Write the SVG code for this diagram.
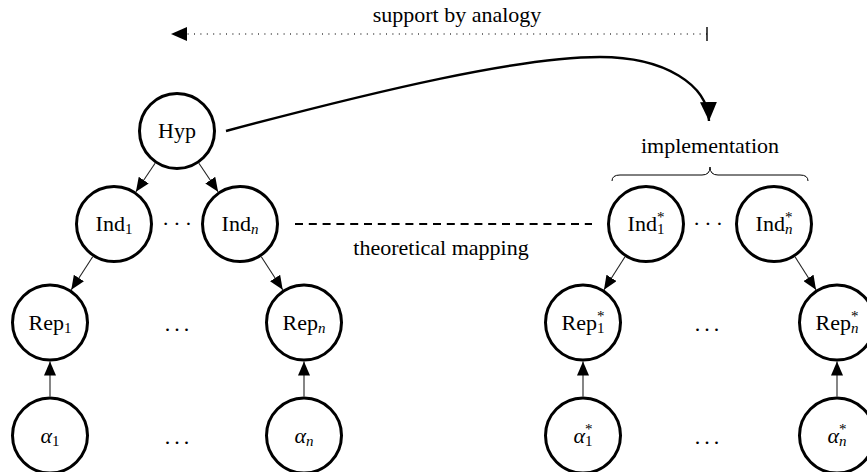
<svg xmlns="http://www.w3.org/2000/svg" width="867" height="472" viewBox="0 0 867 472">
  <style>
    text { font-family: "Liberation Serif", Tinos, "Noto Serif", "DejaVu Serif", serif; font-size: 22px; fill: #000; }
    .node circle { fill: #fff; stroke: #000; stroke-width: 3; }
    .node text { text-anchor: middle; }
    .sub { font-size: 15px; }
    .it { font-style: italic; }
    .edge { stroke: #222; stroke-width: 1.1; fill: none; marker-end: url(#tip); }
    .dots { text-anchor: middle; letter-spacing: 4px; }
    .label { text-anchor: middle; }
  </style>
  <defs>
    <marker id="tip" markerUnits="userSpaceOnUse" markerWidth="15" markerHeight="12" refX="14" refY="6" orient="auto">
      <path d="M0,0 L14,6 L0,12 z" fill="#000"/>
    </marker>
    <marker id="bigtip" markerUnits="userSpaceOnUse" markerWidth="20" markerHeight="17" refX="19" refY="8.5" orient="auto">
      <path d="M0,0 L19,8.5 L0,17 z" fill="#000"/>
    </marker>
    <marker id="leftTip" markerUnits="userSpaceOnUse" markerWidth="17" markerHeight="14" refX="16" refY="7" orient="auto">
      <path d="M0,0 L16,7 L0,14 z" fill="#000"/>
    </marker>
  </defs>

  <!-- connectors -->
  <g id="connectors">
    <!-- analogy arrow, dotted, with bar at its tail -->
    <line x1="707" y1="34" x2="171" y2="34" stroke="#444" stroke-width="1.3" stroke-dasharray="1 5.4" marker-end="url(#leftTip)"/>
    <line x1="707" y1="27" x2="707" y2="41" stroke="#000" stroke-width="1.4"/>
    <!-- implementation curve -->
    <path d="M226,131 C380,90 520,57 600,57 C665,57 708,85 709,121" fill="none" stroke="#000" stroke-width="2.4" marker-end="url(#bigtip)"/>
    <!-- theoretical mapping -->
    <line x1="295" y1="224" x2="592" y2="224" stroke="#000" stroke-width="2" stroke-dasharray="8 5.8"/>
    <!-- implementation brace -->
    <path d="M612,181 Q612,175 620,175 L702,175 Q710,175 710,167 Q710,175 718,175 L800,175 Q808,175 808,181" fill="none" stroke="#000" stroke-width="1"/>
    <!-- tree edges, left -->
    <line class="edge" x1="155.1" y1="163.3" x2="135.9" y2="191.7"/>
    <line class="edge" x1="198.9" y1="163.3" x2="218.1" y2="191.7"/>
    <line class="edge" x1="92.7" y1="256.7" x2="71.3" y2="289.8"/>
    <line class="edge" x1="261.3" y1="256.7" x2="282.7" y2="289.8"/>
    <line class="edge" x1="50" y1="396.5" x2="50" y2="361.5"/>
    <line class="edge" x1="304" y1="396.5" x2="304" y2="361.5"/>
    <!-- tree edges, right -->
    <line class="edge" x1="625" y1="256.8" x2="604" y2="289.7"/>
    <line class="edge" x1="795" y1="256.8" x2="816" y2="289.7"/>
    <line class="edge" x1="583" y1="396.5" x2="583" y2="361.5"/>
    <line class="edge" x1="837" y1="396.5" x2="837" y2="361.5"/>
  </g>

  <!-- labels -->
  <text class="label" x="457" y="22">support by analogy</text>
  <text class="label" x="710" y="153">implementation</text>
  <text class="label" x="441" y="255">theoretical mapping</text>

  <!-- ellipses between nodes -->
  <text class="dots" x="179" y="231">···</text>
  <text class="dots" x="710" y="231">···</text>
  <text class="dots" x="179" y="331">...</text>
  <text class="dots" x="709" y="331">...</text>
  <text class="dots" x="179" y="444">...</text>
  <text class="dots" x="709" y="444">...</text>

  <!-- theory side -->
  <g id="hyp" class="node"><circle cx="177" cy="131" r="37.5"/><text x="177" y="138">Hyp</text></g>
  <g id="ind1" class="node"><circle cx="114" cy="224" r="37.5"/><text x="114" y="231">Ind<tspan class="sub" dy="3">1</tspan></text></g>
  <g id="indn" class="node"><circle cx="240" cy="224" r="37.5"/><text x="240" y="231">Ind<tspan class="sub it" dy="3">n</tspan></text></g>
  <g id="rep1" class="node"><circle cx="50" cy="322.5" r="37.5"/><text x="50" y="330">Rep<tspan class="sub" dy="3">1</tspan></text></g>
  <g id="repn" class="node"><circle cx="304" cy="322.5" r="37.5"/><text x="304" y="330">Rep<tspan class="sub it" dy="3">n</tspan></text></g>
  <g id="alpha1" class="node"><circle cx="50" cy="435.5" r="37.5"/><text x="50" y="443"><tspan class="it">α</tspan><tspan class="sub" dy="3">1</tspan></text></g>
  <g id="alphan" class="node"><circle cx="304" cy="435.5" r="37.5"/><text x="304" y="443"><tspan class="it">α</tspan><tspan class="sub it" dy="3">n</tspan></text></g>

  <!-- implementation side: starred labels stack the * over the index -->
  <g id="ind1s" class="node"><circle cx="646" cy="224" r="37.5"/><text x="646" y="231">Ind<tspan class="sub" dy="-9">*</tspan><tspan class="sub" dx="-7.5" dy="12">1</tspan></text></g>
  <g id="indns" class="node"><circle cx="774" cy="224" r="37.5"/><text x="774" y="231">Ind<tspan class="sub" dy="-9">*</tspan><tspan class="sub it" dx="-7.5" dy="12">n</tspan></text></g>
  <g id="rep1s" class="node"><circle cx="583" cy="322.5" r="37.5"/><text x="583" y="330">Rep<tspan class="sub" dy="-9">*</tspan><tspan class="sub" dx="-7.5" dy="12">1</tspan></text></g>
  <g id="repns" class="node"><circle cx="837" cy="322.5" r="37.5"/><text x="837" y="330">Rep<tspan class="sub" dy="-9">*</tspan><tspan class="sub it" dx="-7.5" dy="12">n</tspan></text></g>
  <g id="alpha1s" class="node"><circle cx="583" cy="435.5" r="37.5"/><text x="583" y="443"><tspan class="it">α</tspan><tspan class="sub" dy="-9">*</tspan><tspan class="sub" dx="-7.5" dy="12">1</tspan></text></g>
  <g id="alphans" class="node"><circle cx="837" cy="435.5" r="37.5"/><text x="837" y="443"><tspan class="it">α</tspan><tspan class="sub" dy="-9">*</tspan><tspan class="sub it" dx="-7.5" dy="12">n</tspan></text></g>
</svg>
